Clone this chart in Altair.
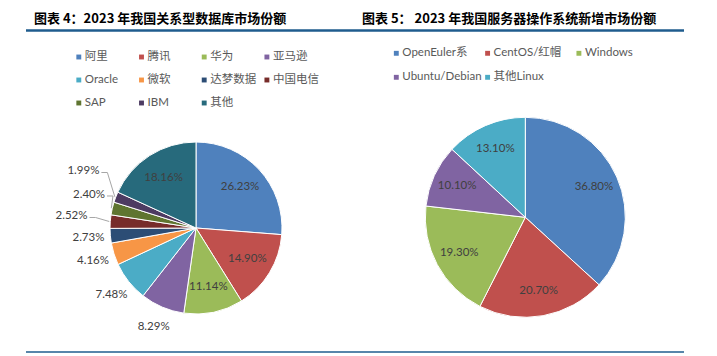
import math
import altair as alt
import pandas as pd

# ---------------- data ----------------
db_title = "图表 4：2023 年我国关系型数据库市场份额"
db_names = ["阿里", "腾讯", "华为", "亚马逊", "Oracle", "微软", "达梦数据", "中国电信", "SAP", "IBM", "其他"]
db_values = [26.23, 14.90, 11.14, 8.29, 7.48, 4.16, 2.73, 2.52, 2.40, 1.99, 18.16]

os_title = "图表 5：  2023 年我国服务器操作系统新增市场份额"
os_names = ["OpenEuler系", "CentOS/红帽", "Windows", "Ubuntu/Debian", "其他Linux"]
os_values = [36.80, 20.70, 19.30, 10.10, 13.10]

# ---------------- style ----------------
palette = ["#4F81BD", "#C0504D", "#9BBB59", "#8064A2", "#4BACC6", "#F79646",
           "#2C4D75", "#772C2A", "#5F7530", "#4D3B62", "#276A7C"]
CJK = "Noto Sans CJK SC"
LEG_FONT = "Lato, Noto Sans CJK SC"
NUM_FONT = "Lato"
LINE_COLOR = "#1F5C8E"


def pie_layers(names, values, cx, cy, R, r_in, r_out, tweaks):
    colors = palette[: len(names)]
    df = pd.DataFrame({"name": names, "value": values, "idx": range(len(names))})
    total = sum(values)
    cum = 0.0
    lab_theta, lab_r, lab_txt = [], [], []
    leaders = []
    for n, v in zip(names, values):
        mid = (cum + v / 2) / total * 2 * math.pi
        cum += v
        r = r_in if v >= 10 else r_out
        dang = 0.0
        if n in tweaks:
            r, ddeg = tweaks[n]
            dang = math.radians(ddeg)
        a = mid + dang
        lab_theta.append(a)
        lab_r.append(r)
        lab_txt.append(f"{v:.2f}%")
        if n in tweaks:
            lx = cx + r * math.sin(a)
            ly = cy - r * math.cos(a)
            pts = [(lx + 18, ly + 1), (lx + 24, ly + 1),
                   (cx + (R + 1) * math.sin(mid), cy - (R + 1) * math.cos(mid))]
            for k, (px, py) in enumerate(pts):
                leaders.append({"name": n, "seq": k, "px": px, "py": py})
    df["ltheta"] = lab_theta
    df["lr"] = lab_r
    df["ltxt"] = lab_txt

    color = alt.Color("name:N", scale=alt.Scale(domain=names, range=colors), legend=None)
    arc = alt.Chart(df).mark_arc(stroke="white", strokeWidth=1).encode(
        theta=alt.Theta("value:Q", stack=True),
        order=alt.Order("idx:Q"),
        color=color,
        x=alt.value(cx), y=alt.value(cy),
        radius=alt.value(R),
    )
    text = alt.Chart(df).mark_text(font=NUM_FONT, fontSize=11.5, color="#404040",
                                   align="center", baseline="middle").encode(
        theta=alt.Theta("ltheta:Q", scale=None, stack=False),
        radius=alt.Radius("lr:Q", scale=None),
        x=alt.value(cx), y=alt.value(cy),
        text="ltxt:N",
    )
    layers = [arc, text]
    if leaders:
        ldf = pd.DataFrame(leaders)
        lines = alt.Chart(ldf).mark_line(color="#A6A6A6", strokeWidth=1).encode(
            x=alt.X("px:Q", scale=None, axis=None),
            y=alt.Y("py:Q", scale=None, axis=None),
            detail="name:N",
            order="seq:Q",
        )
        layers.append(lines)
    return layers


def legend_layers(names, x0, y0, dx, dy, ncol):
    colors = palette[: len(names)]
    rows = []
    for i, n in enumerate(names):
        rows.append({"name": n, "lx": x0 + dx * (i % ncol), "ly": y0 + dy * (i // ncol)})
    df = pd.DataFrame(rows)
    color = alt.Color("name:N", scale=alt.Scale(domain=names, range=colors), legend=None)
    sq = alt.Chart(df).mark_square(size=24, opacity=1).encode(
        x=alt.X("lx:Q", scale=None, axis=None),
        y=alt.Y("ly:Q", scale=None, axis=None),
        color=color,
    )
    tx = alt.Chart(df).mark_text(font=LEG_FONT, fontSize=11.5, color="#595959",
                                 align="left", baseline="middle", dx=6).encode(
        x=alt.X("lx:Q", scale=None, axis=None),
        y=alt.Y("ly:Q", scale=None, axis=None),
        text="name:N",
    )
    return [sq, tx]


title_l = alt.Chart(pd.DataFrame({"t": [db_title]})).mark_text(
    font=CJK, fontSize=13, fontWeight="bold", color="#000000", align="left", baseline="middle"
).encode(x=alt.value(34), y=alt.value(19), text="t:N")
title_r = alt.Chart(pd.DataFrame({"t": [os_title]})).mark_text(
    font=CJK, fontSize=13, fontWeight="bold", color="#000000", align="left", baseline="middle"
).encode(x=alt.value(362), y=alt.value(19), text="t:N")

top_rule = alt.Chart(pd.DataFrame({"a": [0]})).mark_rule(color=LINE_COLOR, strokeWidth=2.5).encode(
    x=alt.value(26), x2=alt.value(684), y=alt.value(30.5))
bot_rule = alt.Chart(pd.DataFrame({"a": [0]})).mark_rule(color=LINE_COLOR, strokeWidth=1.5).encode(
    x=alt.value(26), x2=alt.value(684), y=alt.value(352))

layers = [title_l, title_r, top_rule, bot_rule]
layers += legend_layers(db_names, 78.8, 57, 62.7, 23, 4)
layers += legend_layers(os_names, 396.3, 53.3, 91.3, 24, 3)
layers += pie_layers(db_names, db_values, 196, 228, 86, 60, 108,
                     {"中国电信": (125, 1.0), "SAP": (112, 4.0), "IBM": (126, 5.6)})
layers += pie_layers(os_names, os_values, 525.3, 217.3, 100, 75, 120, {})

chart = alt.layer(*layers).resolve_scale(color="independent", theta="independent").properties(
    width=717, height=356, padding=0, autosize=alt.AutoSizeParams(type="none"), background="white"
).configure_view(stroke=None)

chart.save("out.html", embed_options={"renderer": "svg", "actions": False})
